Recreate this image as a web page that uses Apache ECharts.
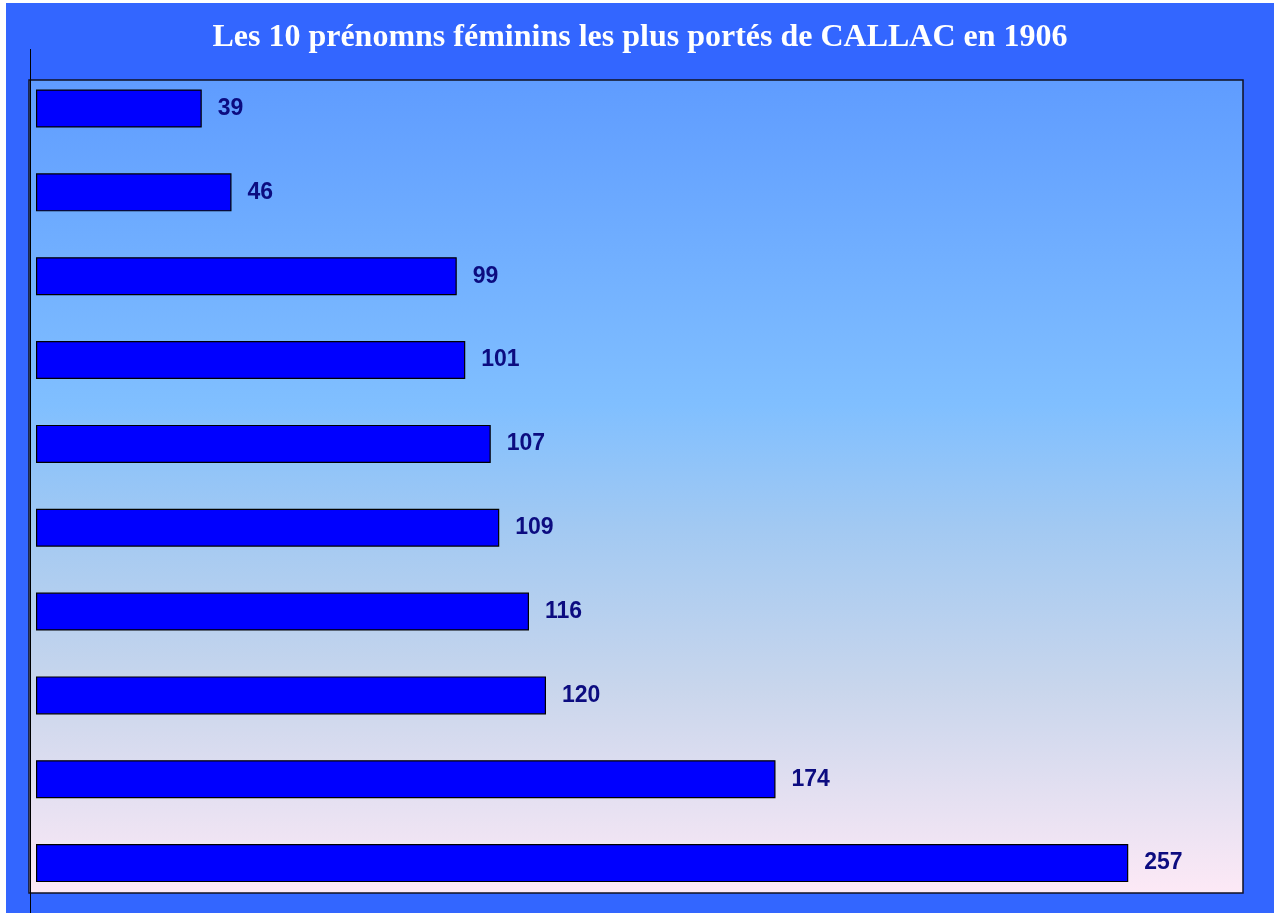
<!DOCTYPE html>
<html>
<head>
<meta charset="utf-8">
<script src="https://cdn.jsdelivr.net/npm/echarts@6/dist/echarts.min.js"></script>
<style>
html,body{margin:0;padding:0;background:#ffffff;}
#c{position:absolute;left:6px;top:3px;width:1268px;height:910px;}
</style>
</head>
<body>
<div id="c"></div>
<script>
const titleText = "Les 10 prénomns féminins les plus portés de CALLAC en 1906";
const categories = ["10", "9", "8", "7", "6", "5", "4", "3", "2", "1"];
const values = [39, 46, 99, 101, 107, 109, 116, 120, 174, 257];

const chart = echarts.init(document.getElementById('c'), null, {renderer: 'canvas'});
// offsets: container at (6,3)
const ox = 6, oy = 3;
chart.setOption({
  backgroundColor: '#3366FF',
  animation: false,
  title: {
    text: titleText,
    left: 'center',
    top: 36 - oy - 19,
    textStyle: {
      color: '#ffffff',
      fontFamily: 'Liberation Serif, Times New Roman, serif',
      fontWeight: 'bold',
      fontSize: 32
    }
  },
  graphic: [
    {
      type: 'rect',
      z: -10,
      shape: {x: 29 - ox, y: 80 - oy, width: 1243 - 29, height: 893 - 80},
      style: {
        fill: new echarts.graphic.LinearGradient(0, 0, 0, 1, [
          {offset: 0, color: '#5f9cff'},
          {offset: 0.4, color: '#80bfff'},
          {offset: 0.55, color: '#a2c9f2'},
          {offset: 0.75, color: '#c9d6ec'},
          {offset: 1, color: '#fde9f6'}
        ]),
        stroke: '#111122',
        lineWidth: 1.5
      }
    },
    {
      type: 'line',
      z: 10,
      shape: {x1: 30.5 - ox, y1: 49 - oy, x2: 30.5 - ox, y2: 913 - oy},
      style: {stroke: '#000000', lineWidth: 1}
    }
  ],
  grid: {
    left: 36 - ox,
    right: 1274 - 1243,
    top: 66.6 - oy,
    bottom: 913 - 905,
    containLabel: false
  },
  xAxis: {
    type: 'value',
    min: 0,
    max: 284,
    show: false,
    splitLine: {show: false}
  },
  yAxis: {
    type: 'category',
    data: categories,
    inverse: true,
    show: false
  },
  series: [{
    type: 'bar',
    data: values,
    barWidth: 38,
    itemStyle: {
      color: '#0000FF',
      borderColor: '#000000',
      borderWidth: 1.2
    },
    label: {
      show: true,
      position: 'right',
      distance: 16,
      color: '#0c0c80',
      fontWeight: 'bold',
      fontSize: 23,
      fontFamily: 'Liberation Sans, Arial, Helvetica, sans-serif'
    }
  }]
});
</script>
</body>
</html>
